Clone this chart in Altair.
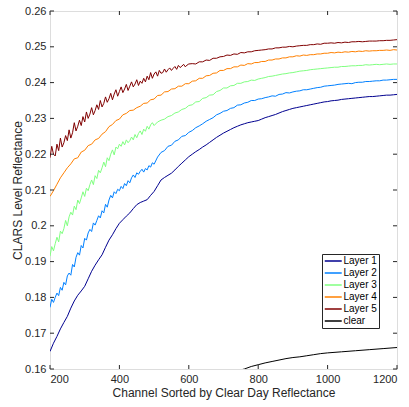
import altair as alt
import pandas as pd

# channel grids
ch_sparse = list(range(200, 1201, 10))
ch_early_500 = list(range(200, 501, 5))
ch_late_500 = list(range(510, 1201, 10))
ch_early_600 = list(range(200, 601, 5))
ch_late_600 = list(range(610, 1201, 10))

layer1 = [0.1649, 0.1672, 0.1691, 0.1712, 0.1730, 0.1747, 0.1770, 0.1790, 0.1806, 0.1818,
          0.1831, 0.1852, 0.1873, 0.1890, 0.1905, 0.1919, 0.1940, 0.1960, 0.1975, 0.1992,
          0.2007, 0.2017, 0.2027, 0.2036, 0.2048, 0.2059, 0.2065, 0.2069, 0.2073, 0.2085,
          0.2096, 0.2112, 0.2128, 0.2135, 0.2141, 0.2147, 0.2156, 0.2166, 0.2175, 0.2184,
          0.2193, 0.2200, 0.2207, 0.2213, 0.2220, 0.2226, 0.2233, 0.2240, 0.2247, 0.2253,
          0.2259, 0.2264, 0.2269, 0.2274, 0.2278, 0.2282, 0.2285, 0.2288, 0.2290, 0.2292,
          0.2294, 0.2298, 0.2302, 0.2305, 0.2308, 0.2311, 0.2315, 0.2319, 0.2322, 0.2325,
          0.2328, 0.2330, 0.2332, 0.2334, 0.2336, 0.2338, 0.2340, 0.2342, 0.2344, 0.2346,
          0.2347, 0.2349, 0.2350, 0.2351, 0.2353, 0.2354, 0.2355, 0.2356, 0.2357, 0.2358,
          0.2359, 0.2360, 0.2361, 0.2361, 0.2362, 0.2363, 0.2364, 0.2365, 0.2365, 0.2366,
          0.2367]

layer2_early = [0.1772, 0.1795, 0.1786, 0.1800, 0.1812, 0.1805, 0.1828, 0.1820, 0.1842, 0.1835,
                0.1860, 0.1868, 0.1862, 0.1892, 0.1885, 0.1912, 0.1925, 0.1918, 0.1945, 0.1938,
                0.1965, 0.1960, 0.1980, 0.1990, 0.1984, 0.2008, 0.2002, 0.2015, 0.2028, 0.2022,
                0.2042, 0.2036, 0.2060, 0.2052, 0.2072, 0.2085, 0.2078, 0.2095, 0.2090, 0.2102,
                0.2098, 0.2110, 0.2104, 0.2118, 0.2112, 0.2126, 0.2120, 0.2134, 0.2142, 0.2135,
                0.2148, 0.2144, 0.2152, 0.2158, 0.2150, 0.2160, 0.2156, 0.2168, 0.2164, 0.2176,
                0.2172]
layer2_late = [0.2192, 0.2205, 0.2210, 0.2222, 0.2225, 0.2236, 0.2240, 0.2250, 0.2252,
               0.2261, 0.2266, 0.2274, 0.2279, 0.2285, 0.2292, 0.2297, 0.2302, 0.2310, 0.2314,
               0.2320, 0.2322, 0.2328, 0.2330, 0.2337, 0.2338, 0.2343, 0.2345, 0.2350, 0.2350,
               0.2354, 0.2355, 0.2358, 0.2360, 0.2363, 0.2362, 0.2367, 0.2368, 0.2372, 0.2371,
               0.2374, 0.2376, 0.2377, 0.2380, 0.2380, 0.2382, 0.2384, 0.2386, 0.2387, 0.2390,
               0.2391, 0.2392, 0.2393, 0.2395, 0.2396, 0.2397, 0.2398, 0.2397, 0.2400, 0.2401,
               0.2401, 0.2403, 0.2403, 0.2404, 0.2405, 0.2405, 0.2407, 0.2407, 0.2408, 0.2409,
               0.2409]

layer3_early = [0.1915, 0.1942, 0.1930, 0.1950, 0.1968, 0.1955, 0.1985, 0.1978, 0.1992, 0.2015,
                0.2000, 0.2025, 0.2038, 0.2030, 0.2055, 0.2045, 0.2072, 0.2062, 0.2078, 0.2095,
                0.2082, 0.2105, 0.2098, 0.2115, 0.2128, 0.2115, 0.2140, 0.2132, 0.2155, 0.2148,
                0.2162, 0.2178, 0.2165, 0.2190, 0.2182, 0.2200, 0.2212, 0.2198, 0.2220, 0.2215,
                0.2228, 0.2222, 0.2235, 0.2226, 0.2240, 0.2232, 0.2238, 0.2248, 0.2240, 0.2255,
                0.2246, 0.2258, 0.2265, 0.2255, 0.2270, 0.2264, 0.2278, 0.2270, 0.2282, 0.2288,
                0.2280]
layer3_late = [0.2290, 0.2295, 0.2298, 0.2305, 0.2308, 0.2315, 0.2318, 0.2325, 0.2328,
               0.2336, 0.2338, 0.2346, 0.2347, 0.2356, 0.2358, 0.2365, 0.2366, 0.2375, 0.2378,
               0.2385, 0.2385, 0.2391, 0.2392, 0.2398, 0.2398, 0.2402, 0.2403, 0.2407, 0.2406,
               0.2410, 0.2412, 0.2414, 0.2417, 0.2418, 0.2420, 0.2422, 0.2424, 0.2425, 0.2427,
               0.2428, 0.2430, 0.2432, 0.2433, 0.2434, 0.2436, 0.2437, 0.2438, 0.2439, 0.2440,
               0.2441, 0.2442, 0.2443, 0.2443, 0.2445, 0.2445, 0.2446, 0.2447, 0.2447, 0.2448,
               0.2448, 0.2450, 0.2449, 0.2450, 0.2451, 0.2450, 0.2451, 0.2452, 0.2451, 0.2452,
               0.2452]

layer4 = [0.2082, 0.2098, 0.2116, 0.2134, 0.2148, 0.2162, 0.2173, 0.2187, 0.2190, 0.2206,
          0.2211, 0.2224, 0.2228, 0.2240, 0.2244, 0.2256, 0.2263, 0.2277, 0.2283, 0.2294,
          0.2298, 0.2310, 0.2314, 0.2322, 0.2323, 0.2330, 0.2334, 0.2342, 0.2343, 0.2352,
          0.2354, 0.2364, 0.2365, 0.2374, 0.2375, 0.2382, 0.2383, 0.2390, 0.2390, 0.2397,
          0.2397, 0.2404, 0.2405, 0.2412, 0.2412, 0.2419, 0.2420, 0.2426, 0.2427, 0.2434,
          0.2434, 0.2439, 0.2439, 0.2444, 0.2444, 0.2449, 0.2448, 0.2453, 0.2452, 0.2456,
          0.2456, 0.2459, 0.2459, 0.2463, 0.2463, 0.2466, 0.2466, 0.2469, 0.2469, 0.2472,
          0.2472, 0.2475, 0.2474, 0.2477, 0.2476, 0.2478, 0.2478, 0.2480, 0.2480, 0.2482,
          0.2482, 0.2484, 0.2483, 0.2485, 0.2484, 0.2486, 0.2485, 0.2487, 0.2486, 0.2488,
          0.2487, 0.2489, 0.2488, 0.2489, 0.2489, 0.2490, 0.2490, 0.2491, 0.2490, 0.2492,
          0.2491]

layer5_early = [0.2190, 0.2222, 0.2200, 0.2195, 0.2228, 0.2210, 0.2245, 0.2220, 0.2232, 0.2252,
                0.2238, 0.2268, 0.2245, 0.2260, 0.2288, 0.2265, 0.2278, 0.2295, 0.2280, 0.2305,
                0.2290, 0.2318, 0.2300, 0.2312, 0.2330, 0.2310, 0.2322, 0.2338, 0.2325, 0.2350,
                0.2332, 0.2342, 0.2360, 0.2345, 0.2355, 0.2370, 0.2352, 0.2368, 0.2380, 0.2362,
                0.2375, 0.2388, 0.2372, 0.2382, 0.2395, 0.2378, 0.2390, 0.2402, 0.2388, 0.2396,
                0.2408, 0.2392, 0.2404, 0.2398, 0.2412, 0.2402, 0.2418, 0.2408, 0.2428, 0.2412,
                0.2424, 0.2430, 0.2418, 0.2434, 0.2426, 0.2428, 0.2438, 0.2429, 0.2436, 0.2441,
                0.2434, 0.2440, 0.2445, 0.2437, 0.2448, 0.2442, 0.2446, 0.2451, 0.2444, 0.2449,
                0.2452]
layer5_late = [0.2453, 0.2452, 0.2458, 0.2458, 0.2463, 0.2462, 0.2468, 0.2468, 0.2472,
               0.2473, 0.2477, 0.2476, 0.2480, 0.2479, 0.2484, 0.2483, 0.2486, 0.2486, 0.2489,
               0.2490, 0.2491, 0.2492, 0.2494, 0.2494, 0.2497, 0.2497, 0.2499, 0.2499, 0.2501,
               0.2500, 0.2502, 0.2503, 0.2504, 0.2504, 0.2506, 0.2506, 0.2508, 0.2507, 0.2510,
               0.2510, 0.2511, 0.2510, 0.2512, 0.2511, 0.2513, 0.2512, 0.2514, 0.2514, 0.2515,
               0.2514, 0.2515, 0.2516, 0.2516, 0.2516, 0.2517, 0.2517, 0.2518, 0.2518, 0.2519,
               0.2520]

clear_channels = [740, 760, 780, 800, 820, 840, 860, 880, 900, 920, 940, 960, 980,
                  1000, 1040, 1080, 1120, 1160, 1200]
clear_vals = [0.1595, 0.1600, 0.1607, 0.1612, 0.1617, 0.1621, 0.1625, 0.1629, 0.1632,
              0.1634, 0.1637, 0.1640, 0.1643, 0.1645, 0.1648, 0.1651, 0.1654, 0.1657, 0.1660]

series_names = ["Layer 1", "Layer 2", "Layer 3", "Layer 4", "Layer 5", "clear"]
series_colors = ["#00008F", "#0080FF", "#80FF80", "#FF8000", "#800000", "#000000"]

y_ticks = [0.16, 0.17, 0.18, 0.19, 0.20, 0.21, 0.22, 0.23, 0.24, 0.25, 0.26]
x_ticks = [200, 400, 600, 800, 1000, 1200]

series_data = [
    ("Layer 1", ch_sparse, layer1),
    ("Layer 2", ch_early_500 + ch_late_500, layer2_early + layer2_late),
    ("Layer 3", ch_early_500 + ch_late_500, layer3_early + layer3_late),
    ("Layer 4", ch_sparse, layer4),
    ("Layer 5", ch_early_600 + ch_late_600, layer5_early + layer5_late),
    ("clear", clear_channels, clear_vals),
]
rows = []
for name, xs, ys in series_data:
    for c, v in zip(xs, ys):
        rows.append({"channel": c, "value": v, "series": name})
df = pd.DataFrame(rows)

W, H = 347, 358
xscale = alt.Scale(domain=[200, 1200], nice=False, zero=False)
yscale = alt.Scale(domain=[0.16, 0.26], nice=False, zero=False)
font = "Liberation Sans"
txt = "#262626"

x_axis = alt.Axis(values=x_ticks, format="d", tickSize=0, domain=False, grid=False,
                  labelFontSize=11, labelColor=txt, labelPadding=4,
                  labelFont=font, title="Channel Sorted by Clear Day Reflectance",
                  titleFont=font, titleFontSize=12, titleFontWeight="normal",
                  titleColor=txt, titlePadding=3)
y_axis = alt.Axis(values=y_ticks, format=".2~f", tickSize=0, domain=False, grid=False,
                  labelFontSize=11, labelColor=txt, labelPadding=4,
                  labelFont=font, title="CLARS Level Reflectance",
                  titleFont=font, titleFontSize=12, titleFontWeight="normal",
                  titleColor=txt, titlePadding=0)

lines = alt.Chart(df).mark_line(strokeWidth=1, clip=True).encode(
    x=alt.X("channel:Q", scale=xscale, axis=x_axis),
    y=alt.Y("value:Q", scale=yscale, axis=y_axis),
    color=alt.Color("series:N", sort=series_names,
                    scale=alt.Scale(domain=series_names, range=series_colors),
                    legend=alt.Legend(title=None, orient="none", legendX=272, legendY=243,
                                      symbolType="M-1,0H3", symbolSize=72, symbolStrokeWidth=1.5,
                                      labelFont=font, labelFontSize=10, labelColor="#000000",
                                      labelLimit=200, rowPadding=2, labelOffset=9.5, padding=2,
                                      strokeColor=txt, fillColor="white",
                                      cornerRadius=0)),
    order=alt.Order("channel:Q"),
)

ydf = pd.DataFrame({"value": y_ticks})
xdf = pd.DataFrame({"channel": x_ticks})
yt_left = alt.Chart(ydf).mark_rule(color=txt, strokeWidth=1).encode(
    y=alt.Y("value:Q", scale=yscale, axis=y_axis), x=alt.value(0), x2=alt.value(4))
yt_right = alt.Chart(ydf).mark_rule(color=txt, strokeWidth=1).encode(
    y=alt.Y("value:Q", scale=yscale, axis=y_axis), x=alt.value(W - 4), x2=alt.value(W))
xt_bottom = alt.Chart(xdf).mark_rule(color=txt, strokeWidth=1).encode(
    x=alt.X("channel:Q", scale=xscale, axis=x_axis), y=alt.value(H - 4), y2=alt.value(H))
xt_top = alt.Chart(xdf).mark_rule(color=txt, strokeWidth=1).encode(
    x=alt.X("channel:Q", scale=xscale, axis=x_axis), y=alt.value(0), y2=alt.value(4))

chart = alt.layer(lines, yt_left, yt_right, xt_bottom, xt_top).properties(
    width=W, height=H,
    autosize=alt.AutoSizeParams(type="none"),
    padding={"left": 50, "top": 11, "right": 12, "bottom": 38},
).configure_view(stroke=txt, strokeWidth=1).configure(background="white")

chart.save("out.html", embed_options={"renderer": "svg", "actions": False})
